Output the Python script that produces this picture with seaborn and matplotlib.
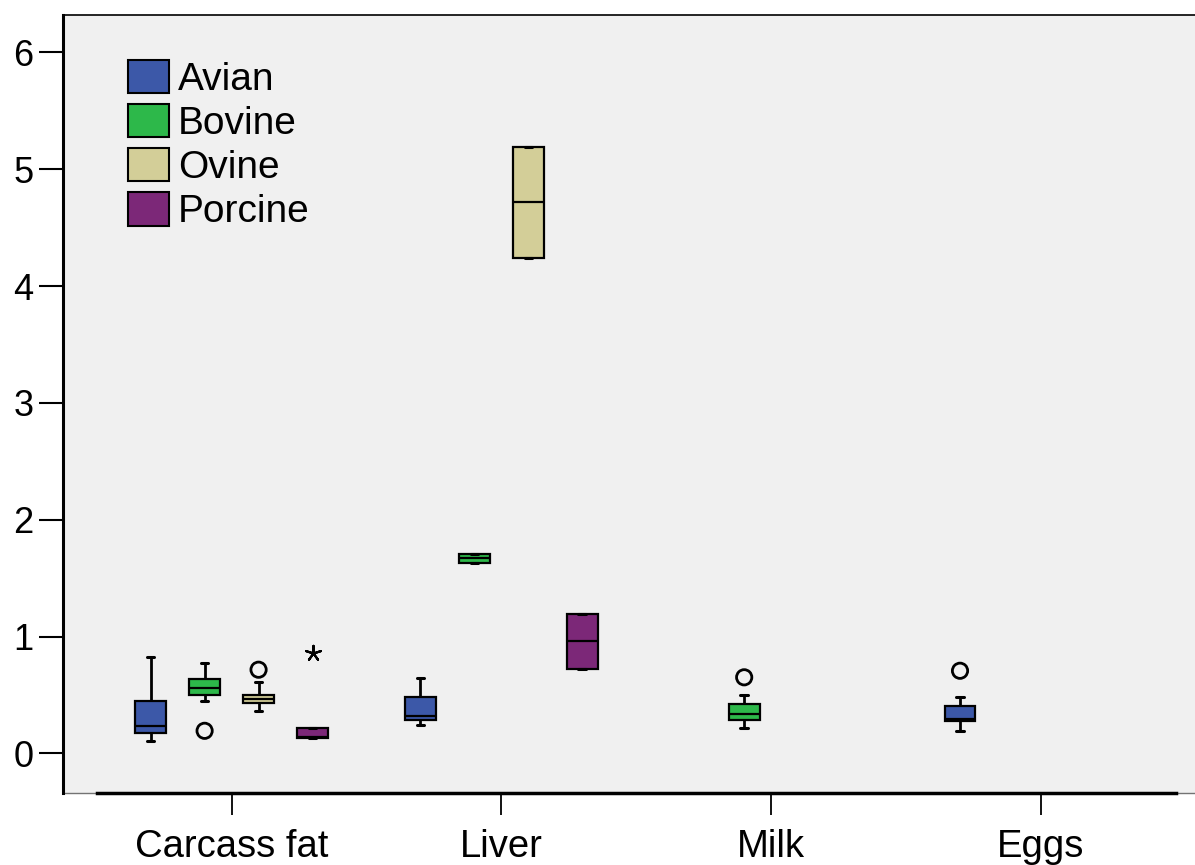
import matplotlib

matplotlib.use("Agg")

import matplotlib.pyplot as plt
import numpy as np
import pandas as pd
import seaborn as sns
from matplotlib.patches import Patch

# categories and groups
TISSUES = ["Carcass fat", "Liver", "Milk", "Eggs"]
SPECIES = ["Avian", "Bovine", "Ovine", "Porcine"]
COLORS = ["#3c58a8", "#2db84a", "#d3ce98", "#7c2878"]

# sample values per box (read from the box/whisker/outlier positions)
carcass_avian = [0.108, 0.174, 0.231, 0.448, 0.822]
carcass_bovine = [0.193, 0.450, 0.499, 0.530, 0.556, 0.600, 0.636, 0.700, 0.773]
carcass_ovine = [0.365, 0.400, 0.428, 0.450, 0.465, 0.480, 0.502, 0.608, 0.716]
carcass_porcine = [0.128, 0.128, 0.128, 0.135, 0.140, 0.180, 0.219, 0.219, 0.861]
liver_avian = [0.245, 0.283, 0.322, 0.485, 0.642]
liver_bovine = [1.630, 1.630, 1.670, 1.710, 1.710]
liver_ovine = [4.243, 4.243, 4.720, 5.194, 5.194]
liver_porcine = [0.724, 0.724, 0.961, 1.195, 1.195]
milk_bovine = [0.214, 0.250, 0.285, 0.310, 0.339, 0.380, 0.425, 0.502, 0.651]
eggs_avian = [0.191, 0.240, 0.277, 0.290, 0.296, 0.350, 0.408, 0.479, 0.707]


def buildDF() -> pd.DataFrame:
    groups = [
        ("Carcass fat", "Avian", carcass_avian),
        ("Carcass fat", "Bovine", carcass_bovine),
        ("Carcass fat", "Ovine", carcass_ovine),
        ("Carcass fat", "Porcine", carcass_porcine),
        ("Liver", "Avian", liver_avian),
        ("Liver", "Bovine", liver_bovine),
        ("Liver", "Ovine", liver_ovine),
        ("Liver", "Porcine", liver_porcine),
        ("Milk", "Bovine", milk_bovine),
        ("Eggs", "Avian", eggs_avian),
    ]
    rows = []
    for tissue, species, vals in groups:
        for v in vals:
            rows.append({"tissue": tissue, "species": species, "value": v})
    df = pd.DataFrame(rows)

    # SPSS style: >1.5 IQR -> circle, >3 IQR -> asterisk
    def iqrDist(s: pd.Series) -> pd.Series:
        q1, q3 = s.quantile(0.25), s.quantile(0.75)
        iqr = q3 - q1
        if iqr == 0:
            return s * 0
        return np.maximum(q1 - s, s - q3) / iqr

    df["dist"] = df.groupby(["tissue", "species"])["value"].transform(iqrDist)
    return df


def main() -> None:
    sns.set_style("ticks")
    plt.rcParams["font.family"] = ["Liberation Sans", "DejaVu Sans"]
    plt.rcParams["text.color"] = "black"
    plt.rcParams["axes.edgecolor"] = "black"
    plt.rcParams["xtick.color"] = "black"
    plt.rcParams["ytick.color"] = "black"

    df = buildDF()

    fig = plt.figure(figsize=(11.95, 8.65), dpi=100)
    ax = fig.add_axes([0.05247, 0.08289, 0.94753, 0.8998])
    ax.set_facecolor("#f0f0f0")

    sns.boxplot(
        data=df,
        x="tissue",
        y="value",
        hue="species",
        order=TISSUES,
        hue_order=SPECIES,
        palette=COLORS,
        saturation=1,
        width=0.8,
        gap=0.43,
        showfliers=False,
        linecolor="black",
        linewidth=1.6,
        whiskerprops={"linewidth": 2.0},
        capprops={"linewidth": 2.2},
        legend=False,
        ax=ax,
    )

    # SPSS draws short whisker caps: shrink them to half
    box_w = 0.8 / 4 * (1 - 0.43)
    for ln in ax.lines:
        xd, yd = np.asarray(ln.get_xdata(), float), np.asarray(ln.get_ydata(), float)
        if len(xd) == 2 and yd[0] == yd[1]:
            w = abs(xd[1] - xd[0])
            if 0 < w < 0.8 * box_w:
                mid = xd.mean()
                ln.set_xdata([mid - w * 0.25, mid + w * 0.25])

    mild = df[(df["dist"] > 1.5) & (df["dist"] <= 3)]
    extreme = df[df["dist"] > 3]

    n0 = len(ax.collections)
    sns.stripplot(
        data=mild, x="tissue", y="value", hue="species",
        order=TISSUES, hue_order=SPECIES, palette=["black"] * 4,
        dodge=True, jitter=False, size=11, marker="o",
        legend=False, ax=ax,
    )
    for c in ax.collections[n0:]:
        c.set_facecolor("none")
        c.set_edgecolor("black")
        c.set_linewidth(2.0)

    n0 = len(ax.collections)
    sns.stripplot(
        data=extreme, x="tissue", y="value", hue="species",
        order=TISSUES, hue_order=SPECIES, palette=["black"] * 4,
        dodge=True, jitter=False, size=11, marker=(5, 2, 0),
        legend=False, ax=ax,
    )
    for c in ax.collections[n0:]:
        c.set_edgecolor("black")
        c.set_linewidth(1.6)

    ax.set_xlim(-0.626, 3.571)
    ax.set_ylim(-0.342, 6.321)
    ax.set_yticks(range(0, 7))
    ax.set_xlabel("")
    ax.set_ylabel("")

    ax.spines["right"].set_visible(False)
    ax.spines["top"].set_linewidth(1.2)
    ax.spines["left"].set_linewidth(2.2)
    ax.spines["bottom"].set_linewidth(2.5)
    ax.spines["bottom"].set_bounds(-0.5, 3.5)
    ax.axhline(-0.342, color="0.45", lw=1.0, clip_on=False, zorder=0.5)

    ax.tick_params(axis="y", length=17, width=1.5, pad=4, labelsize=26,
                   direction="out")
    ax.tick_params(axis="x", length=16, width=1.3, pad=10, labelsize=27.5,
                   direction="out")

    handles = [Patch(facecolor=c, edgecolor="black", linewidth=1.5)
               for c in COLORS]
    ax.legend(
        handles, SPECIES,
        loc="upper left", bbox_to_anchor=(0.058, 0.942),
        frameon=False, fontsize=28, handlelength=1.05, handleheight=0.93,
        handletextpad=0.22, labelspacing=0.16, borderpad=0, borderaxespad=0,
    )

    fig.savefig("out.png", dpi=100, facecolor="white")


if __name__ == "__main__":
    main()
